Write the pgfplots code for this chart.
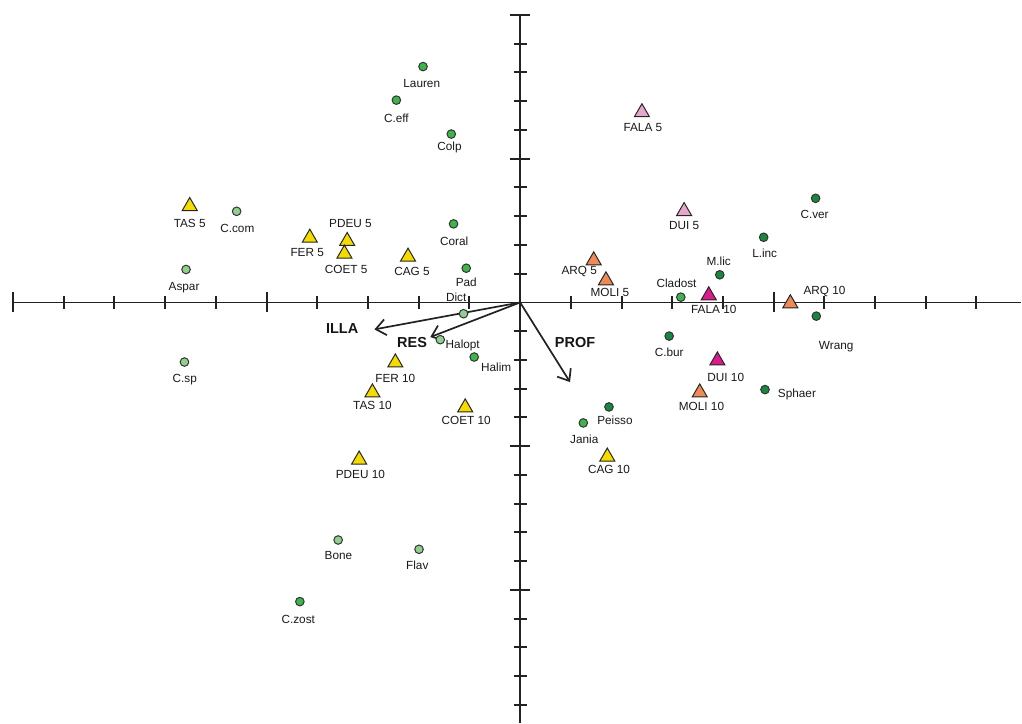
\documentclass[border=0pt]{standalone}
\usepackage{pgfplots}
\pgfplotsset{compat=1.18}
\usepackage{fontspec}
\setmainfont{Liberation Sans}
\usetikzlibrary{arrows.meta}
\definecolor{cyel}{HTML}{F5DC00}
\definecolor{cpink}{HTML}{E9A6CC}
\definecolor{corng}{HTML}{EE8A55}
\definecolor{cmag}{HTML}{DD1A8C}
\definecolor{gmed}{HTML}{3DB54A}
\definecolor{gdark}{HTML}{17893F}
\definecolor{glight}{HTML}{93CF8C}
\definecolor{axc}{HTML}{222222}
\tikzset{
  lbl/.style={font=\fontsize{11.8}{13}\selectfont, text=black!90, inner sep=0pt},
  blbl/.style={font=\fontsize{14.5}{16}\selectfont\bfseries, text=black!92, inner sep=0pt},
}
\pgfplotsset{
  tri/.style={only marks, mark=triangle*, mark size=8.7pt, mark options={draw=black!85, line width=1pt, fill=#1}},
  cir/.style={only marks, mark=*, mark size=4.3pt, mark options={draw=black!80, line width=1pt, fill=#1}},
  arr/.style={no marks, line width=1.7pt, axc, -{Straight Barb[length=10pt, width=16pt, line width=1.7pt]}},
}
\begin{document}
\begin{tikzpicture}
\begin{axis}[
  x=50.8pt, y=28.8pt,
  xmin=-10.24, xmax=9.88, ymin=-14.62, ymax=10.49,
  axis lines=middle,
  axis line style={-, line width=1.8pt, axc},
  x axis line style={shorten <=12.2pt},
  y axis line style={shorten >=14pt},
  xtick={-10,-5,5}, ytick={-10,-5,5,10},
  minor xtick={-9,-8,-7,-6,-4,-3,-2,-1,1,2,3,4,6,7,8,9},
  minor ytick={-14,-13,-12,-11,-9,-8,-7,-6,-4,-3,-2,-1,1,2,3,4,6,7,8,9},
  xticklabels={}, yticklabels={},
  tick align=center,
  major tick length=20pt, minor tick length=13pt,
  every tick/.style={line width=2pt, axc},
  clip=false,
]
% environmental vectors
\addplot[arr] coordinates {(0,0) (-2.874,-0.9375)};
\addplot[arr] coordinates {(0,0) (-1.772,-1.205)};
\addplot[arr] coordinates {(0,0) (0.984,-2.77)};
% species: medium green
\addplot[cir=gmed] table {
x y
-1.915 8.205
-2.441 7.038
-1.358 5.858
-1.313 2.733
-1.063 1.191
-0.906 -1.899
1.246 -4.191
-4.344 -10.406
3.169 0.184
};
% species: dark green
\addplot[cir=gdark] table {
x y
5.827 3.622
4.803 2.267
3.937 0.962
5.841 -0.476
2.939 -1.170
1.752 -3.635
4.829 -3.031
};
% species: light green
\addplot[cir=glight] table {
x y
-5.591 3.170
-6.589 1.146
-1.116 -0.392
-1.575 -1.295
-6.620 -2.073
-3.589 -8.264
-1.994 -8.587
};
% stations: yellow
\addplot[tri=cyel] table {
x y
-6.516 3.347
-4.148 2.246
-3.411 2.132
-3.465 1.691
-2.211 1.587
-2.461 -2.094
-2.913 -3.136
-1.083 -3.656
-3.175 -5.472
1.719 -5.368
};
% stations: pink
\addplot[tri=cpink] table {
x y
2.402 6.611
3.234 3.173
};
% stations: orange
\addplot[tri=corng] table {
x y
1.451 1.458
1.693 0.764
5.329 -0.035
3.542 -3.136
};
% stations: magenta
\addplot[tri=cmag] table {
x y
3.720 0.243
3.890 -2.023
};
% labels species
\node[lbl] at (axis cs:-1.94,7.615) {Lauren};
\node[lbl] at (axis cs:-2.441,6.413) {C.eff};
\node[lbl] at (axis cs:-1.392,5.392) {Colp};
\node[lbl] at (axis cs:-1.299,2.128) {Coral};
\node[lbl] at (axis cs:-1.063,0.684) {Pad};
\node[lbl] at (axis cs:-1.260,0.163) {Dict};
\node[lbl] at (axis cs:-1.132,-1.493) {Halopt};
\node[lbl] at (axis cs:-0.472,-2.246) {Halim};
\node[lbl] at (axis cs:-5.577,2.580) {C.com};
\node[lbl] at (axis cs:-6.628,0.531) {Aspar};
\node[lbl] at (axis cs:-6.614,-2.67) {C.sp};
\node[lbl] at (axis cs:1.266,-4.767) {Jania};
\node[lbl] at (axis cs:1.870,-4.097) {Peisso};
\node[lbl] at (axis cs:-3.583,-8.809) {Bone};
\node[lbl] at (axis cs:-2.028,-9.156) {Flav};
\node[lbl] at (axis cs:-4.376,-11.017) {C.zost};
\node[lbl] at (axis cs:5.807,3.045) {C.ver};
\node[lbl] at (axis cs:4.823,1.712) {L.inc};
\node[lbl] at (axis cs:3.917,1.424) {M.lic};
\node[lbl] at (axis cs:3.085,0.649) {Cladost};
\node[lbl] at (axis cs:6.234,-1.552) {Wrang};
\node[lbl] at (axis cs:2.939,-1.726) {C.bur};
\node[lbl] at (axis cs:5.459,-3.205) {Sphaer};
% labels stations
\node[lbl] at (axis cs:-6.516,2.733) {TAS 5};
\node[lbl] at (axis cs:-4.199,1.747) {FER 5};
\node[lbl] at (axis cs:-3.346,2.733) {PDEU 5};
\node[lbl] at (axis cs:-3.431,1.135) {COET 5};
\node[lbl] at (axis cs:-2.132,1.087) {CAG 5};
\node[lbl] at (axis cs:-2.461,-2.639) {FER 10};
\node[lbl] at (axis cs:-2.913,-3.576) {TAS 10};
\node[lbl] at (axis cs:-1.063,-4.122) {COET 10};
\node[lbl] at (axis cs:-3.150,-5.997) {PDEU 10};
\node[lbl] at (axis cs:1.752,-5.799) {CAG 10};
\node[lbl] at (axis cs:2.421,6.076) {FALA 5};
\node[lbl] at (axis cs:3.234,2.674) {DUI 5};
\node[lbl] at (axis cs:1.167,1.076) {ARQ 5};
\node[lbl] at (axis cs:1.772,0.337) {MOLI 5};
\node[lbl] at (axis cs:6.004,0.382) {ARQ 10};
\node[lbl] at (axis cs:3.577,-3.611) {MOLI 10};
\node[lbl] at (axis cs:3.819,-0.253) {FALA 10};
\node[lbl] at (axis cs:4.055,-2.594) {DUI 10};
% vector labels
\node[blbl] at (axis cs:-3.510,-0.913) {ILLA};
\node[blbl] at (axis cs:-2.132,-1.378) {RES};
\node[blbl] at (axis cs:1.083,-1.378) {PROF};
\end{axis}
\end{tikzpicture}
\end{document}
